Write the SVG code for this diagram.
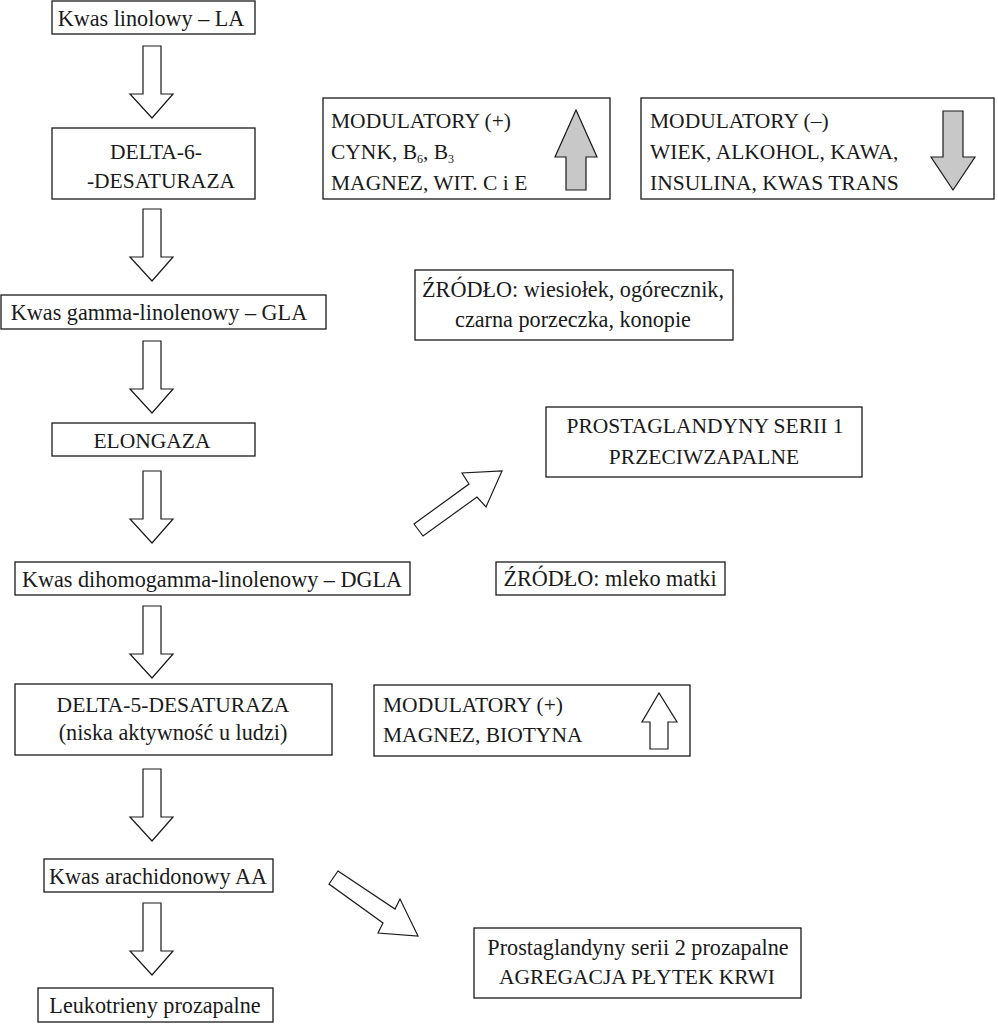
<svg xmlns="http://www.w3.org/2000/svg" xmlns:xlink="http://www.w3.org/1999/xlink" width="998" height="1024" viewBox="0 0 998 1024">
<style>
.box{fill:#fff;stroke:#1a1a1a;stroke-width:1.3}
.arr{fill:#fff;stroke:#1a1a1a;stroke-width:1.2;stroke-linejoin:miter}
.garr{fill:#c8c8c8;stroke:#1a1a1a;stroke-width:1.2;stroke-linejoin:miter}
text{font-family:"Liberation Serif","Times New Roman",serif;font-size:21.5px;fill:#1a1a1a}
.lc{font-size:22.2px}
.c{text-anchor:middle}
.sub{font-size:12px}
</style>
<defs>
<path id="varrow" d="M143,0 H161 V48 H173 L152,72 L130,48 H143 Z"/>
</defs>
<rect width="998" height="1024" fill="#fff"/>

<g id="connectors">
<use xlink:href="#varrow" href="#varrow" class="arr" y="46"/>
<use xlink:href="#varrow" href="#varrow" class="arr" y="209"/>
<use xlink:href="#varrow" href="#varrow" class="arr" y="341"/>
<use xlink:href="#varrow" href="#varrow" class="arr" y="471"/>
<use xlink:href="#varrow" href="#varrow" class="arr" y="606"/>
<use xlink:href="#varrow" href="#varrow" class="arr" y="769"/>
<use xlink:href="#varrow" href="#varrow" class="arr" y="903"/>
<path class="arr" d="M414,524 L469,484 L462,473 L502,471 L486,507 L477,497 L423,536 Z"/>
<path class="arr" d="M338,871 L395,909 L400,899 L418,936 L378,933 L383,923 L329,884 Z"/>
</g>

<g id="n-la">
<rect class="box" x="52" y="1" width="203" height="33"/>
<text class="c lc" x="151" y="26">Kwas linolowy – LA</text>
</g>

<g id="n-d6d">
<rect class="box" x="52" y="128" width="203" height="71"/>
<text class="c" x="156" y="159">DELTA-6-</text>
<text class="c" x="161" y="188">-DESATURAZA</text>
</g>

<g id="n-mod-plus">
<rect class="box" x="323" y="98" width="287" height="101"/>
<text x="331" y="128">MODULATORY (+)</text>
<text x="331" y="159">CYNK, B<tspan class="sub" dy="4">6</tspan><tspan dy="-4">, B</tspan><tspan class="sub" dy="4">3</tspan></text>
<text x="331" y="190">MAGNEZ, WIT. C i E</text>
<path class="garr" d="M566,190 V157 H555 L576,110 L597,157 H586 V190 Z"/>
</g>

<g id="n-mod-minus">
<rect class="box" x="641" y="98" width="353" height="101"/>
<text x="650" y="128">MODULATORY (–)</text>
<text x="650" y="159">WIEK, ALKOHOL, KAWA,</text>
<text x="650" y="190">INSULINA, KWAS TRANS</text>
<path class="garr" d="M943,111 H963 V157 H975 L953,190 L931,157 H943 Z"/>
</g>

<g id="n-gla">
<rect class="box" x="1" y="295" width="325" height="34"/>
<text class="c lc" x="159" y="320">Kwas gamma-linolenowy – GLA</text>
</g>

<g id="n-src1">
<rect class="box" x="415" y="270" width="318" height="70"/>
<text class="c lc" x="573" y="297">ŹRÓDŁO: wiesiołek, ogórecznik,</text>
<text class="c lc" x="573" y="327">czarna porzeczka, konopie</text>
</g>

<g id="n-elong">
<rect class="box" x="52" y="423" width="203" height="33"/>
<text class="c" x="152" y="448">ELONGAZA</text>
</g>

<g id="n-pg1">
<rect class="box" x="546" y="407" width="316" height="70"/>
<text class="c" x="705" y="433">PROSTAGLANDYNY SERII 1</text>
<text class="c" x="704" y="464">PRZECIWZAPALNE</text>
</g>

<g id="n-dgla">
<rect class="box" x="15" y="562" width="395" height="33"/>
<text class="c lc" x="212" y="587">Kwas dihomogamma-linolenowy – DGLA</text>
</g>

<g id="n-src2">
<rect class="box" x="496" y="562" width="229" height="33"/>
<text class="c lc" x="610" y="586">ŹRÓDŁO: mleko matki</text>
</g>

<g id="n-d5d">
<rect class="box" x="15" y="684" width="317" height="71"/>
<text class="c" x="173" y="712">DELTA-5-DESATURAZA</text>
<text class="c lc" x="173" y="740">(niska aktywność u ludzi)</text>
</g>

<g id="n-mod2">
<rect class="box" x="374" y="685" width="316" height="71"/>
<text x="383" y="712">MODULATORY (+)</text>
<text x="383" y="742">MAGNEZ, BIOTYNA</text>
<path class="arr" d="M650,749 V722 H642 L659,693 L677,722 H668 V749 Z"/>
</g>

<g id="n-aa">
<rect class="box" x="44" y="859" width="229" height="33"/>
<text class="c lc" x="158" y="884">Kwas arachidonowy AA</text>
</g>

<g id="n-pg2">
<rect class="box" x="474" y="928" width="327" height="70"/>
<text class="c lc" x="638" y="955">Prostaglandyny serii 2 prozapalne</text>
<text class="c" x="637" y="984">AGREGACJA PŁYTEK KRWI</text>
</g>

<g id="n-leuko">
<rect class="box" x="38" y="988" width="235" height="34"/>
<text class="c lc" x="155" y="1013">Leukotrieny prozapalne</text>
</g>
</svg>
